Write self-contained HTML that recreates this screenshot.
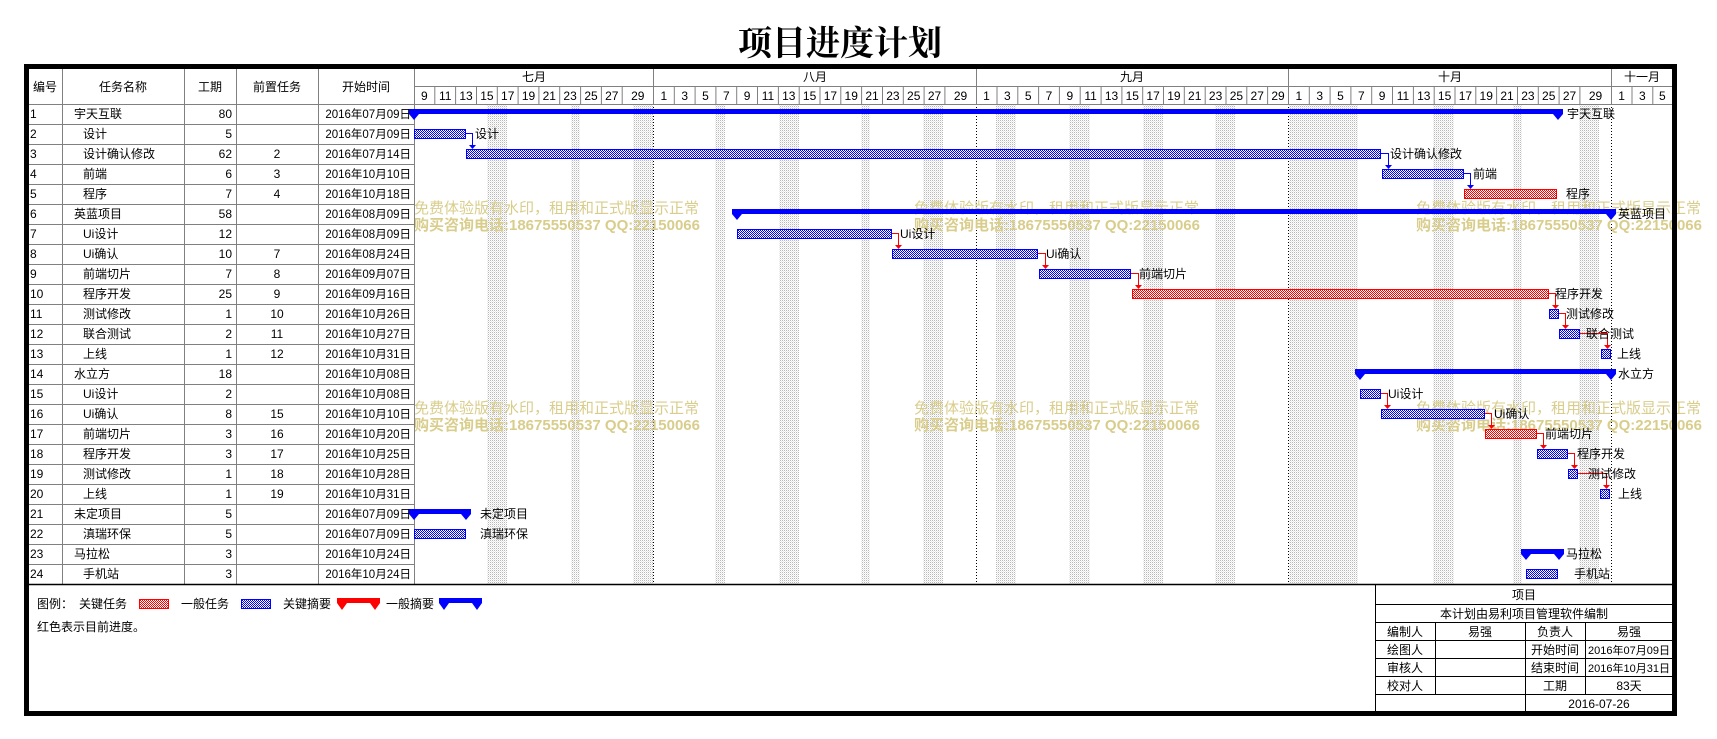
<!DOCTYPE html>
<html><head><meta charset="utf-8">
<style>
html,body{margin:0;padding:0;background:#fff;}
svg{display:block;}
text{font-family:"Liberation Sans","Noto Sans CJK SC",sans-serif;font-size:12px;fill:#000;}
.t{font-family:"Liberation Serif","Noto Sans CJK SC",serif;}
.d{font-size:11.5px;}
.wm{font-size:15px;fill:#d9cd8c;}
.wmb{font-size:15px;fill:#d9cd8c;font-weight:bold;}
</style></head><body>
<svg width="1717" height="739" viewBox="0 0 1717 739" xmlns="http://www.w3.org/2000/svg">
<defs>
<pattern id="pb" width="2" height="2" patternUnits="userSpaceOnUse"><rect width="2" height="2" fill="#fff"/><rect width="1" height="1" fill="#00f"/><rect x="1" y="1" width="1" height="1" fill="#00f"/></pattern>
<pattern id="pr" width="2" height="2" patternUnits="userSpaceOnUse"><rect width="2" height="2" fill="#fff"/><rect width="1" height="1" fill="#f00"/><rect x="1" y="1" width="1" height="1" fill="#f00"/></pattern>
<pattern id="pg" width="2" height="2" patternUnits="userSpaceOnUse"><rect width="2" height="2" fill="#fff"/><rect width="1" height="1" fill="#b8b8b8"/><rect x="1" y="1" width="1" height="1" fill="#e8e8e8"/></pattern>
</defs>
<rect width="1717" height="739" fill="#fff"/>
<text x="840" y="55" text-anchor="middle" style="font-family:'Noto Serif CJK SC',serif;font-size:34px;font-weight:bold">项目进度计划</text>

<g fill="url(#pg)">
<rect x="487" y="104" width="20" height="480"/><rect x="571" y="104" width="9" height="480"/><rect x="633" y="104" width="20" height="480"/>
<rect x="715" y="104" width="10" height="480"/><rect x="779" y="104" width="20" height="480"/><rect x="861" y="104" width="9" height="480"/>
<rect x="923" y="104" width="20" height="480"/><rect x="996" y="104" width="20" height="480"/><rect x="1069" y="104" width="21" height="480"/>
<rect x="1143" y="104" width="20" height="480"/><rect x="1215" y="104" width="20" height="480"/><rect x="1289" y="104" width="69" height="480"/>
<rect x="1433" y="104" width="21" height="480"/><rect x="1513" y="104" width="9" height="480"/><rect x="1579" y="104" width="20" height="480"/>
</g>
<g stroke="#000" stroke-dasharray="1,2" stroke-width="1">
<line x1="653.5" y1="104" x2="653.5" y2="584"/><line x1="976.5" y1="104" x2="976.5" y2="584"/><line x1="1288.5" y1="104" x2="1288.5" y2="584"/><line x1="1611.5" y1="104" x2="1611.5" y2="584"/>
</g>

<text class="wm" x="414" y="213">免费体验版有水印，租用和正式版显示正常</text>
<text class="wmb" x="414" y="230">购买咨询电话:18675550537 QQ:22150066</text>
<text class="wm" x="914" y="213">免费体验版有水印，租用和正式版显示正常</text>
<text class="wmb" x="914" y="230">购买咨询电话:18675550537 QQ:22150066</text>
<text class="wm" x="1416" y="213">免费体验版有水印，租用和正式版显示正常</text>
<text class="wmb" x="1416" y="230">购买咨询电话:18675550537 QQ:22150066</text>
<text class="wm" x="414" y="413">免费体验版有水印，租用和正式版显示正常</text>
<text class="wmb" x="414" y="430">购买咨询电话:18675550537 QQ:22150066</text>
<text class="wm" x="914" y="413">免费体验版有水印，租用和正式版显示正常</text>
<text class="wmb" x="914" y="430">购买咨询电话:18675550537 QQ:22150066</text>
<text class="wm" x="1416" y="413">免费体验版有水印，租用和正式版显示正常</text>
<text class="wmb" x="1416" y="430">购买咨询电话:18675550537 QQ:22150066</text>

<g stroke="#808080" stroke-width="1">
<line x1="62.5" y1="69" x2="62.5" y2="584"/><line x1="184.5" y1="69" x2="184.5" y2="584"/><line x1="236.5" y1="69" x2="236.5" y2="584"/><line x1="318.5" y1="69" x2="318.5" y2="584"/><line x1="414.5" y1="69" x2="414.5" y2="584"/>
<line x1="29" y1="104.5" x2="1672" y2="104.5"/>
<line x1="414" y1="86.5" x2="1672" y2="86.5"/>
<line x1="29" y1="124.5" x2="414" y2="124.5"/><line x1="29" y1="144.5" x2="414" y2="144.5"/><line x1="29" y1="164.5" x2="414" y2="164.5"/><line x1="29" y1="184.5" x2="414" y2="184.5"/>
<line x1="29" y1="204.5" x2="414" y2="204.5"/><line x1="29" y1="224.5" x2="414" y2="224.5"/><line x1="29" y1="244.5" x2="414" y2="244.5"/><line x1="29" y1="264.5" x2="414" y2="264.5"/>
<line x1="29" y1="284.5" x2="414" y2="284.5"/><line x1="29" y1="304.5" x2="414" y2="304.5"/><line x1="29" y1="324.5" x2="414" y2="324.5"/><line x1="29" y1="344.5" x2="414" y2="344.5"/>
<line x1="29" y1="364.5" x2="414" y2="364.5"/><line x1="29" y1="384.5" x2="414" y2="384.5"/><line x1="29" y1="404.5" x2="414" y2="404.5"/><line x1="29" y1="424.5" x2="414" y2="424.5"/>
<line x1="29" y1="444.5" x2="414" y2="444.5"/><line x1="29" y1="464.5" x2="414" y2="464.5"/><line x1="29" y1="484.5" x2="414" y2="484.5"/><line x1="29" y1="504.5" x2="414" y2="504.5"/>
<line x1="29" y1="524.5" x2="414" y2="524.5"/><line x1="29" y1="544.5" x2="414" y2="544.5"/><line x1="29" y1="564.5" x2="414" y2="564.5"/>
<line x1="653.5" y1="69" x2="653.5" y2="104"/><line x1="976.5" y1="69" x2="976.5" y2="104"/><line x1="1288.5" y1="69" x2="1288.5" y2="104"/><line x1="1611.5" y1="69" x2="1611.5" y2="104"/>
</g>
<g stroke="#808080" stroke-width="1">
<path d="M434.8 86V104M455.6 86V104M476.5 86V104M497.3 86V104M518.1 86V104M538.9 86V104M559.7 86V104M580.6 86V104M601.4 86V104M622.2 86V104
M674.3 86V104M695.1 86V104M715.9 86V104M736.7 86V104M757.5 86V104M778.4 86V104M799.2 86V104M820 86V104M840.8 86V104M861.6 86V104M882.5 86V104M903.3 86V104M924.1 86V104M944.9 86V104
M997 86V104M1017.8 86V104M1038.6 86V104M1059.4 86V104M1080.2 86V104M1101.1 86V104M1121.9 86V104M1142.7 86V104M1163.5 86V104M1184.3 86V104M1205.2 86V104M1226 86V104M1246.8 86V104M1267.6 86V104
M1309.3 86V104M1330.1 86V104M1350.9 86V104M1371.7 86V104M1392.5 86V104M1413.4 86V104M1434.2 86V104M1455 86V104M1475.8 86V104M1496.6 86V104M1517.5 86V104M1538.3 86V104M1559.1 86V104M1579.9 86V104
M1632 86V104M1652.8 86V104" fill="none"/>
</g>

<g text-anchor="middle">
<text x="45" y="91">编号</text><text x="123" y="91">任务名称</text><text x="210" y="91">工期</text><text x="277" y="91">前置任务</text><text x="366" y="91">开始时间</text>
<text x="534" y="81">七月</text><text x="815" y="81">八月</text><text x="1132" y="81">九月</text><text x="1450" y="81">十月</text><text x="1642" y="81">十一月</text>
<text x="424.4" y="100">9</text><text x="445.2" y="100">11</text><text x="466" y="100">13</text><text x="486.9" y="100">15</text><text x="507.7" y="100">17</text><text x="528.5" y="100">19</text><text x="549.3" y="100">21</text><text x="570.1" y="100">23</text><text x="591" y="100">25</text><text x="611.8" y="100">27</text><text x="637.8" y="100">29</text>
<text x="663.8" y="100">1</text><text x="684.7" y="100">3</text><text x="705.5" y="100">5</text><text x="726.3" y="100">7</text><text x="747.1" y="100">9</text><text x="768" y="100">11</text><text x="788.8" y="100">13</text><text x="809.6" y="100">15</text><text x="830.4" y="100">17</text><text x="851.2" y="100">19</text><text x="872" y="100">21</text><text x="892.9" y="100">23</text><text x="913.7" y="100">25</text><text x="934.5" y="100">27</text><text x="960.5" y="100">29</text>
<text x="986.5" y="100">1</text><text x="1007.4" y="100">3</text><text x="1028.2" y="100">5</text><text x="1049" y="100">7</text><text x="1069.8" y="100">9</text><text x="1090.6" y="100">11</text><text x="1111.5" y="100">13</text><text x="1132.3" y="100">15</text><text x="1153.1" y="100">17</text><text x="1173.9" y="100">19</text><text x="1194.7" y="100">21</text><text x="1215.6" y="100">23</text><text x="1236.4" y="100">25</text><text x="1257.2" y="100">27</text><text x="1278" y="100">29</text>
<text x="1298.9" y="100">1</text><text x="1319.7" y="100">3</text><text x="1340.5" y="100">5</text><text x="1361.3" y="100">7</text><text x="1382.1" y="100">9</text><text x="1403" y="100">11</text><text x="1423.8" y="100">13</text><text x="1444.6" y="100">15</text><text x="1465.4" y="100">17</text><text x="1486.2" y="100">19</text><text x="1507" y="100">21</text><text x="1527.9" y="100">23</text><text x="1548.7" y="100">25</text><text x="1569.5" y="100">27</text><text x="1595.5" y="100">29</text>
<text x="1621.6" y="100">1</text><text x="1642.4" y="100">3</text><text x="1662.4" y="100">5</text>
</g>

<g class="t">
<text x="30" y="118">1</text><text x="74" y="118">宇天互联</text><text x="232" y="118" text-anchor="end">80</text><text class="d" x="411" y="118" text-anchor="end">2016年07月09日</text>
<text x="30" y="138">2</text><text x="83" y="138">设计</text><text x="232" y="138" text-anchor="end">5</text><text class="d" x="411" y="138" text-anchor="end">2016年07月09日</text>
<text x="30" y="158">3</text><text x="83" y="158">设计确认修改</text><text x="232" y="158" text-anchor="end">62</text><text x="277" y="158" text-anchor="middle">2</text><text class="d" x="411" y="158" text-anchor="end">2016年07月14日</text>
<text x="30" y="178">4</text><text x="83" y="178">前端</text><text x="232" y="178" text-anchor="end">6</text><text x="277" y="178" text-anchor="middle">3</text><text class="d" x="411" y="178" text-anchor="end">2016年10月10日</text>
<text x="30" y="198">5</text><text x="83" y="198">程序</text><text x="232" y="198" text-anchor="end">7</text><text x="277" y="198" text-anchor="middle">4</text><text class="d" x="411" y="198" text-anchor="end">2016年10月18日</text>
<text x="30" y="218">6</text><text x="74" y="218">英蓝项目</text><text x="232" y="218" text-anchor="end">58</text><text class="d" x="411" y="218" text-anchor="end">2016年08月09日</text>
<text x="30" y="238">7</text><text x="83" y="238">Ui设计</text><text x="232" y="238" text-anchor="end">12</text><text class="d" x="411" y="238" text-anchor="end">2016年08月09日</text>
<text x="30" y="258">8</text><text x="83" y="258">Ui确认</text><text x="232" y="258" text-anchor="end">10</text><text x="277" y="258" text-anchor="middle">7</text><text class="d" x="411" y="258" text-anchor="end">2016年08月24日</text>
<text x="30" y="278">9</text><text x="83" y="278">前端切片</text><text x="232" y="278" text-anchor="end">7</text><text x="277" y="278" text-anchor="middle">8</text><text class="d" x="411" y="278" text-anchor="end">2016年09月07日</text>
<text x="30" y="298">10</text><text x="83" y="298">程序开发</text><text x="232" y="298" text-anchor="end">25</text><text x="277" y="298" text-anchor="middle">9</text><text class="d" x="411" y="298" text-anchor="end">2016年09月16日</text>
<text x="30" y="318">11</text><text x="83" y="318">测试修改</text><text x="232" y="318" text-anchor="end">1</text><text x="277" y="318" text-anchor="middle">10</text><text class="d" x="411" y="318" text-anchor="end">2016年10月26日</text>
<text x="30" y="338">12</text><text x="83" y="338">联合测试</text><text x="232" y="338" text-anchor="end">2</text><text x="277" y="338" text-anchor="middle">11</text><text class="d" x="411" y="338" text-anchor="end">2016年10月27日</text>
<text x="30" y="358">13</text><text x="83" y="358">上线</text><text x="232" y="358" text-anchor="end">1</text><text x="277" y="358" text-anchor="middle">12</text><text class="d" x="411" y="358" text-anchor="end">2016年10月31日</text>
<text x="30" y="378">14</text><text x="74" y="378">水立方</text><text x="232" y="378" text-anchor="end">18</text><text class="d" x="411" y="378" text-anchor="end">2016年10月08日</text>
<text x="30" y="398">15</text><text x="83" y="398">Ui设计</text><text x="232" y="398" text-anchor="end">2</text><text class="d" x="411" y="398" text-anchor="end">2016年10月08日</text>
<text x="30" y="418">16</text><text x="83" y="418">Ui确认</text><text x="232" y="418" text-anchor="end">8</text><text x="277" y="418" text-anchor="middle">15</text><text class="d" x="411" y="418" text-anchor="end">2016年10月10日</text>
<text x="30" y="438">17</text><text x="83" y="438">前端切片</text><text x="232" y="438" text-anchor="end">3</text><text x="277" y="438" text-anchor="middle">16</text><text class="d" x="411" y="438" text-anchor="end">2016年10月20日</text>
<text x="30" y="458">18</text><text x="83" y="458">程序开发</text><text x="232" y="458" text-anchor="end">3</text><text x="277" y="458" text-anchor="middle">17</text><text class="d" x="411" y="458" text-anchor="end">2016年10月25日</text>
<text x="30" y="478">19</text><text x="83" y="478">测试修改</text><text x="232" y="478" text-anchor="end">1</text><text x="277" y="478" text-anchor="middle">18</text><text class="d" x="411" y="478" text-anchor="end">2016年10月28日</text>
<text x="30" y="498">20</text><text x="83" y="498">上线</text><text x="232" y="498" text-anchor="end">1</text><text x="277" y="498" text-anchor="middle">19</text><text class="d" x="411" y="498" text-anchor="end">2016年10月31日</text>
<text x="30" y="518">21</text><text x="74" y="518">未定项目</text><text x="232" y="518" text-anchor="end">5</text><text class="d" x="411" y="518" text-anchor="end">2016年07月09日</text>
<text x="30" y="538">22</text><text x="83" y="538">滇瑞环保</text><text x="232" y="538" text-anchor="end">5</text><text class="d" x="411" y="538" text-anchor="end">2016年07月09日</text>
<text x="30" y="558">23</text><text x="74" y="558">马拉松</text><text x="232" y="558" text-anchor="end">3</text><text class="d" x="411" y="558" text-anchor="end">2016年10月24日</text>
<text x="30" y="578">24</text><text x="83" y="578">手机站</text><text x="232" y="578" text-anchor="end">3</text><text class="d" x="411" y="578" text-anchor="end">2016年10月24日</text>
</g>

<g fill="#0000ff">
<path d="M409 109H1563V114L1558 120L1553 114H419L414 120L409 114Z"/>
<path d="M732 209H1616V214L1611 220L1606 214H742L737 220L732 214Z"/>
<path d="M1355 369H1616V374L1611 380L1606 374H1365L1360 380L1355 374Z"/>
<path d="M409 509H471V514L466 520L461 514H419L414 520L409 514Z"/>
<path d="M1521 549H1564V554L1559 560L1554 554H1531L1526 560L1521 554Z"/>
</g>

<g stroke-width="1">
<rect x="414.5" y="129.5" width="51" height="9" fill="url(#pb)" stroke="#00f"/>
<rect x="466.5" y="149.5" width="914" height="9" fill="url(#pb)" stroke="#00f"/>
<rect x="1382.5" y="169.5" width="81" height="9" fill="url(#pb)" stroke="#00f"/>
<rect x="1464.5" y="189.5" width="92" height="9" fill="url(#pr)" stroke="#f00"/>
<rect x="737.5" y="229.5" width="154" height="9" fill="url(#pb)" stroke="#00f"/>
<rect x="892.5" y="249.5" width="145" height="9" fill="url(#pb)" stroke="#00f"/>
<rect x="1039.5" y="269.5" width="91" height="9" fill="url(#pb)" stroke="#00f"/>
<rect x="1132.5" y="289.5" width="416" height="9" fill="url(#pr)" stroke="#f00"/>
<rect x="1549.5" y="309.5" width="9" height="9" fill="url(#pb)" stroke="#00f"/>
<rect x="1559.5" y="329.5" width="20" height="9" fill="url(#pb)" stroke="#00f"/>
<rect x="1601.5" y="349.5" width="9" height="9" fill="url(#pb)" stroke="#00f"/>
<rect x="1360.5" y="389.5" width="20" height="9" fill="url(#pb)" stroke="#00f"/>
<rect x="1381.5" y="409.5" width="103" height="9" fill="url(#pb)" stroke="#00f"/>
<rect x="1485.5" y="429.5" width="51" height="9" fill="url(#pr)" stroke="#f00"/>
<rect x="1537.5" y="449.5" width="30" height="9" fill="url(#pb)" stroke="#00f"/>
<rect x="1568.5" y="469.5" width="9" height="9" fill="url(#pb)" stroke="#00f"/>
<rect x="1600.5" y="489.5" width="9" height="9" fill="url(#pb)" stroke="#00f"/>
<rect x="414.5" y="529.5" width="51" height="9" fill="url(#pb)" stroke="#00f"/>
<rect x="1526.5" y="569.5" width="31" height="9" fill="url(#pb)" stroke="#00f"/>
</g>

<g fill="none" stroke="#0000ff">
<path d="M466 133.5H472.5V146"/><path d="M1381 153.5H1388.5V166"/><path d="M1464 173.5H1470.5V186"/>
</g>
<g fill="#0000ff">
<polygon points="469,145 476,145 472.5,149"/><polygon points="1385,165 1392,165 1388.5,169"/><polygon points="1467,185 1474,185 1470.5,189"/>
</g>
<g fill="none" stroke="#ff0000">
<path d="M892 233.5H898.5V246"/><path d="M1038 253.5H1045.5V266"/><path d="M1131 273.5H1138.5V286"/>
<path d="M1549 293.5H1555.5V306"/><path d="M1559 313.5H1565.5V326"/><path d="M1580 333.5H1607.5V346"/>
<path d="M1381 393.5H1387.5V406"/><path d="M1485 413.5H1491.5V426"/><path d="M1537 433.5H1543.5V446"/>
<path d="M1568 453.5H1574.5V466"/><path d="M1578 473.5H1606.5V486"/>
</g>
<g fill="#ff0000">
<polygon points="895,245 902,245 898.5,249"/><polygon points="1042,265 1049,265 1045.5,269"/><polygon points="1135,285 1142,285 1138.5,289"/>
<polygon points="1552,305 1559,305 1555.5,309"/><polygon points="1562,325 1569,325 1565.5,329"/><polygon points="1604,345 1611,345 1607.5,349"/>
<polygon points="1384,405 1391,405 1387.5,409"/><polygon points="1488,425 1495,425 1491.5,429"/><polygon points="1540,445 1547,445 1543.5,449"/>
<polygon points="1571,465 1578,465 1574.5,469"/><polygon points="1603,485 1610,485 1606.5,489"/>
</g>

<g class="t">
<text x="1567" y="118">宇天互联</text><text x="475" y="138">设计</text><text x="1390" y="158">设计确认修改</text><text x="1473" y="178">前端</text><text x="1566" y="198">程序</text>
<text x="1618" y="218">英蓝项目</text><text x="900" y="238">Ui设计</text><text x="1046" y="258">Ui确认</text><text x="1139" y="278">前端切片</text><text x="1555" y="298">程序开发</text>
<text x="1566" y="318">测试修改</text><text x="1586" y="338">联合测试</text><text x="1617" y="358">上线</text><text x="1618" y="378">水立方</text><text x="1388" y="398">Ui设计</text>
<text x="1494" y="418">Ui确认</text><text x="1545" y="438">前端切片</text><text x="1577" y="458">程序开发</text><text x="1588" y="478">测试修改</text><text x="1618" y="498">上线</text>
<text x="480" y="518">未定项目</text><text x="480" y="538">滇瑞环保</text><text x="1566" y="558">马拉松</text><text x="1574" y="578">手机站</text>
</g>

<line x1="29" y1="584.5" x2="1672" y2="584.5" stroke="#000" stroke-width="1.5"/>
<text x="37" y="608">图例：</text>
<text x="79" y="608">关键任务</text>
<rect x="139.5" y="599.5" width="29" height="9" fill="url(#pr)" stroke="#f00"/>
<text x="181" y="608">一般任务</text>
<rect x="241.5" y="599.5" width="29" height="9" fill="url(#pb)" stroke="#00f"/>
<text x="283" y="608">关键摘要</text>
<path d="M337 598H380V603L375 610L370 603H347L342 610L337 603Z" fill="#f00"/>
<text x="386" y="608">一般摘要</text>
<path d="M439 598H482V603L477 610L472 603H449L444 610L439 603Z" fill="#00f"/>
<text x="37" y="631">红色表示目前进度。</text>

<g stroke="#000" stroke-width="1">
<line x1="1375.5" y1="585" x2="1375.5" y2="714"/>
<line x1="1375" y1="604.5" x2="1672" y2="604.5"/><line x1="1375" y1="622.5" x2="1672" y2="622.5"/><line x1="1375" y1="640.5" x2="1672" y2="640.5"/>
<line x1="1375" y1="658.5" x2="1672" y2="658.5"/><line x1="1375" y1="676.5" x2="1672" y2="676.5"/><line x1="1375" y1="694.5" x2="1672" y2="694.5"/>
<line x1="1435.5" y1="622" x2="1435.5" y2="694"/><line x1="1525.5" y1="622" x2="1525.5" y2="714"/><line x1="1585.5" y1="622" x2="1585.5" y2="694"/>
</g>
<g text-anchor="middle">
<text x="1524" y="599">项目</text>
<text x="1524" y="618">本计划由易利项目管理软件编制</text>
<text x="1405" y="636">编制人</text><text x="1480" y="636">易强</text><text x="1555" y="636">负责人</text><text x="1629" y="636">易强</text>
<text x="1405" y="654">绘图人</text><text x="1555" y="654">开始时间</text><text x="1629" y="654" style="font-size:11px">2016年07月09日</text>
<text x="1405" y="672">审核人</text><text x="1555" y="672">结束时间</text><text x="1629" y="672" style="font-size:11px">2016年10月31日</text>
<text x="1405" y="690">校对人</text><text x="1555" y="690">工期</text><text x="1629" y="690">83天</text>
<text x="1599" y="708">2016-07-26</text>
</g>

<rect x="26.5" y="66.5" width="1648" height="647" fill="none" stroke="#000" stroke-width="5"/>
</svg>
</body></html>
